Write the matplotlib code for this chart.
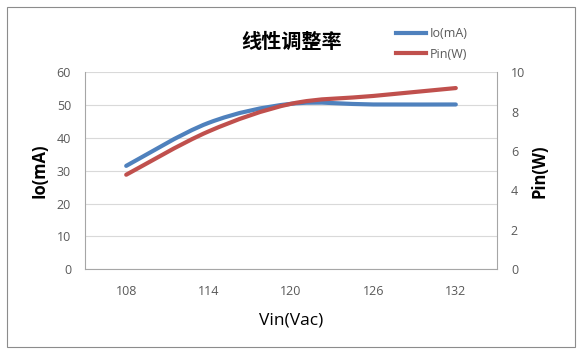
import numpy as np
import matplotlib
matplotlib.use("Agg")
import matplotlib.pyplot as plt
from matplotlib.path import Path
from matplotlib.patches import PathPatch, Rectangle
from matplotlib.lines import Line2D

plt.rcParams['font.family'] = ['Open Sans', 'Noto Sans CJK SC', 'DejaVu Sans']

# 데이터
vin = ['108', '114', '120', '126', '132']
io_ma = [31.5, 44.6, 50.4, 50.2, 50.2]
pin_w = [4.8, 7.0, 8.4, 8.8, 9.2]

blue = '#4F81BD'
red = '#C0504D'
grid_c = '#D9D9D9'
axis_c = '#A6A6A6'
tick_c = '#595959'


def smooth_path(xs, ys):
    # Excel 스타일 부드러운 선 (베지어)
    pts = np.column_stack([xs, ys]).astype(float)
    n = len(pts)
    verts = [pts[0]]
    codes = [Path.MOVETO]
    for i in range(n - 1):
        p0 = pts[max(i - 1, 0)]
        p1 = pts[i]
        p2 = pts[i + 1]
        p3 = pts[min(i + 2, n - 1)]
        c1 = p1 + (p2 - p0) / 6
        c2 = p2 - (p3 - p1) / 6
        verts += [c1, c2, p2]
        codes += [Path.CURVE4] * 3
    return Path(verts, codes)


fig = plt.figure(figsize=(5.81, 3.54), dpi=100)
fig.patches.append(Rectangle((7 / 581, 1 - 347 / 354), 568 / 581, 340 / 354,
                             transform=fig.transFigure, fill=False,
                             edgecolor='#8C8C8C', linewidth=0.8))

ax = fig.add_axes([85 / 581, 1 - 269.3 / 354, 412 / 581, 197 / 354])
ax2 = ax.twinx()

x = np.arange(len(vin))
ax.add_patch(PathPatch(smooth_path(x, io_ma), fill=False, edgecolor=blue,
                       linewidth=3, capstyle='round', zorder=3))
ax2.add_patch(PathPatch(smooth_path(x, pin_w), fill=False, edgecolor=red,
                        linewidth=3, capstyle='round', zorder=3))

ax.set_xlim(-0.5, len(vin) - 0.5)
ax.set_ylim(0, 60)
ax.set_yticks(range(0, 61, 10))
ax2.set_ylim(0, 10)
ax2.set_yticks(range(0, 11, 2))
ax.set_xticks(x)
ax.set_xticklabels(vin)

ax.grid(axis='y', color=grid_c, linewidth=0.8)
ax.set_axisbelow(True)
for a in (ax, ax2):
    a.spines['top'].set_visible(False)
    a.spines['left'].set_color(axis_c)
    a.spines['right'].set_color(axis_c)
    a.spines['bottom'].set_color(axis_c)
    a.tick_params(length=0, colors=tick_c, labelsize=9)
ax2.spines['left'].set_visible(False)
ax2.spines['bottom'].set_visible(False)
ax.spines['right'].set_visible(False)
ax.tick_params(axis='y', pad=10)
ax2.tick_params(axis='y', pad=10)
ax.tick_params(axis='x', pad=11)

ax.set_ylabel('Io(mA)', fontsize=12, fontweight='bold', labelpad=6)
ax2.set_ylabel('Pin(W)', fontsize=12, fontweight='bold', labelpad=4)
ax.set_xlabel('Vin(Vac)', fontsize=12.5, labelpad=11)

fig.text(292 / 581, 1 - 41 / 354, '线性调整率', fontsize=14.5, fontweight='bold',
         ha='center', va='center', family=['Noto Sans CJK SC', 'DejaVu Sans'])

handles = [Line2D([], [], color=blue, linewidth=3),
           Line2D([], [], color=red, linewidth=3)]
fig.legend(handles, ['Io(mA)', 'Pin(W)'], loc='center left',
           bbox_to_anchor=(385 / 581, 1 - 44 / 354), frameon=False,
           fontsize=9, handlelength=2.4, handletextpad=0.3,
           labelspacing=0.6, labelcolor=tick_c)

fig.savefig('out.png', dpi=100)
